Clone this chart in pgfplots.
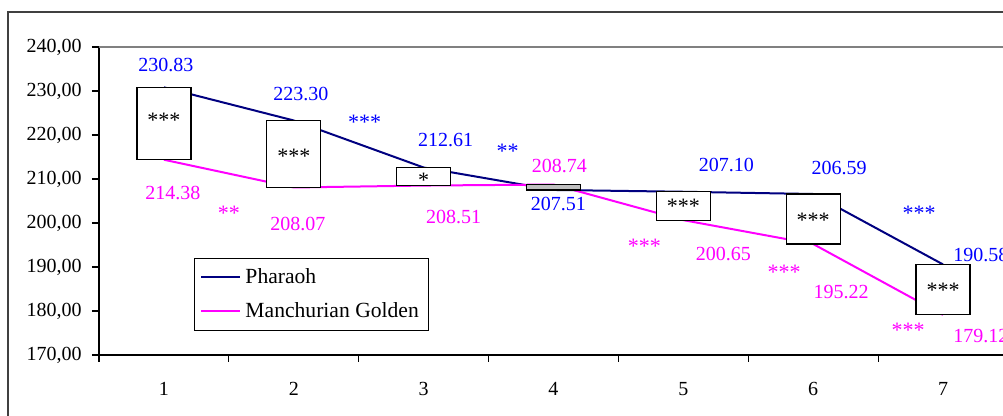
\documentclass[border=0pt]{standalone}
\usepackage{pgfplots}
\pgfplotsset{compat=1.18}
\usepackage{pgfplotstable}
\usepackage{fontspec}
\setmainfont{Liberation Serif}

\definecolor{navyline}{RGB}{0,0,128}
\definecolor{lblblue}{RGB}{0,0,255}
\definecolor{mag}{RGB}{255,0,255}

\pgfplotstableread{
x ph mg
1 230.83 214.38
2 223.30 208.07
3 212.61 208.51
4 207.51 208.74
5 207.10 200.65
6 206.59 195.22
7 190.58 179.12
}\datatable

\begin{document}
\begin{tikzpicture}[
  lbl/.style={font=\fontsize{10}{12}\selectfont, inner sep=0pt},
  stars/.style={font=\fontsize{11}{13}\selectfont, inner sep=0pt},
]
\useasboundingbox (0,0) rectangle (501.5pt,208pt);
\clip (0,0) rectangle (501.5pt,208pt);
% outer chart frame (right and bottom edges fall outside the picture)
\draw[line width=0.9pt, black!75] (4pt,-10pt) -- (4pt,202pt) -- (520pt,202pt);
\begin{axis}[
  at={(49.5pt,30.5pt)}, anchor=south west,
  scale only axis, width=454.5pt, height=154pt,
  xmin=0.5, xmax=7.5, ymin=170, ymax=240,
  axis x line*=bottom, axis y line*=left,
  axis line style={line width=0.8pt, black},
  xtick={1,...,7},
  minor xtick={0.5,1.5,...,7.5},
  major x tick style={draw=none},
  minor x tick style={black, line width=0.6pt},
  ytick={170,180,...,240},
  y tick style={black, line width=0.6pt},
  tick align=outside,
  major tick length=3.5pt, minor tick length=3.5pt,
  y tick label style={/pgf/number format/fixed, /pgf/number format/fixed zerofill,
    /pgf/number format/precision=2, /pgf/number format/use comma},
  /pgf/number format/assume math mode=true,
  tick label style={font=\fontsize{10}{12}\selectfont},
  xticklabel style={anchor=north, inner sep=0pt, yshift=-10pt},
  yticklabel style={anchor=east, inner sep=0pt, xshift=-5pt},
  clip=false,
  legend style={at={(0.1045,0.315)}, anchor=north west, draw=black, fill=white,
    line width=0.5pt, font=\fontsize{10.8}{13}\selectfont,
    inner xsep=3pt, inner ysep=3pt, row sep=4pt, cells={anchor=west}},
  legend image code/.code={\draw[#1, line width=1pt] (0pt,0pt) -- (19.5pt,0pt);},
]
% plot area top border
\draw[black!50, line width=0.6pt] (rel axis cs:0,1) -- (rel axis cs:1.02,1);

\addplot[navyline, line width=1pt] table[x=x, y=ph] {\datatable};
\addlegendentry{Pharaoh}
\addplot[mag, line width=1pt] table[x=x, y=mg] {\datatable};
\addlegendentry{Manchurian Golden}

% up-down bars
\addplot[forget plot, draw=black, line width=0.6pt, fill=white] coordinates {(0.792,214.38) (1.208,214.38) (1.208,230.83) (0.792,230.83)} -- cycle;
\addplot[forget plot, draw=black, line width=0.6pt, fill=white] coordinates {(1.792,208.07) (2.208,208.07) (2.208,223.30) (1.792,223.30)} -- cycle;
\addplot[forget plot, draw=black, line width=0.6pt, fill=white] coordinates {(2.792,208.51) (3.208,208.51) (3.208,212.61) (2.792,212.61)} -- cycle;
\addplot[forget plot, draw=black, line width=0.6pt, fill=black!25] coordinates {(3.792,207.51) (4.208,207.51) (4.208,208.74) (3.792,208.74)} -- cycle;
\addplot[forget plot, draw=black, line width=0.6pt, fill=white] coordinates {(4.792,200.65) (5.208,200.65) (5.208,207.10) (4.792,207.10)} -- cycle;
\addplot[forget plot, draw=black, line width=0.6pt, fill=white] coordinates {(5.792,195.22) (6.208,195.22) (6.208,206.59) (5.792,206.59)} -- cycle;
\addplot[forget plot, draw=black, line width=0.6pt, fill=white] coordinates {(6.792,179.12) (7.208,179.12) (7.208,190.58) (6.792,190.58)} -- cycle;

% stars inside the bars
\node[stars] at (axis cs:1,223.4) {***};
\node[stars] at (axis cs:2,215.2) {***};
\node[stars] at (axis cs:3,209.7) {*};
\node[stars] at (axis cs:5,203.9) {***};
\node[stars] at (axis cs:6,200.6) {***};
\node[stars] at (axis cs:7,184.6) {***};

% Pharaoh value labels
\node[lbl, lblblue] at (axis cs:1.015,235.9) {230.83};
\node[lbl, lblblue] at (axis cs:2.054,229.3) {223.30};
\node[lbl, lblblue] at (axis cs:3.169,218.9) {212.61};
\node[lbl, lblblue] at (axis cs:4.038,204.3) {207.51};
\node[lbl, lblblue] at (axis cs:5.331,213.2) {207.10};
\node[lbl, lblblue] at (axis cs:6.200,212.5) {206.59};
\node[lbl, lblblue, anchor=west] at (axis cs:7.077,192.7) {190.58};
% Manchurian Golden value labels
\node[lbl, mag] at (axis cs:1.069,206.8) {214.38};
\node[lbl, mag] at (axis cs:2.031,199.8) {208.07};
\node[lbl, mag] at (axis cs:3.231,201.4) {208.51};
\node[lbl, mag] at (axis cs:4.046,213.0) {208.74};
\node[lbl, mag] at (axis cs:5.308,193.0) {200.65};
\node[lbl, mag] at (axis cs:6.215,184.3) {195.22};
\node[lbl, mag, anchor=west] at (axis cs:7.077,174.3) {179.12};

% significance between consecutive points
\node[stars, lblblue] at (axis cs:2.546,222.8) {***};
\node[stars, lblblue] at (axis cs:3.646,216.4) {**};
\node[stars, lblblue] at (axis cs:6.815,202.1) {***};
\node[stars, mag] at (axis cs:1.500,202.1) {**};
\node[stars, mag] at (axis cs:4.700,194.6) {***};
\node[stars, mag] at (axis cs:5.777,188.9) {***};
\node[stars, mag] at (axis cs:6.731,175.5) {***};
\end{axis}
\end{tikzpicture}
\end{document}
